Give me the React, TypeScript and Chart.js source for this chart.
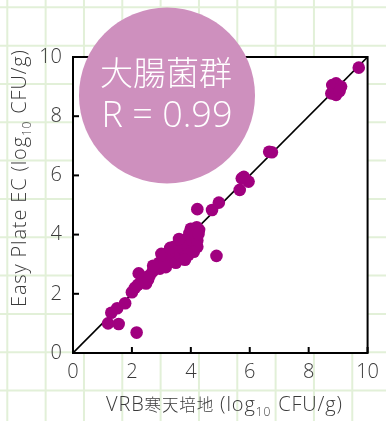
import { useEffect, useRef } from 'react';
import { Chart, registerables } from 'chart.js';

Chart.register(...registerables);

// VRB agar (x) vs Easy Plate EC (y), log10 CFU/g
const vrbX = [
  1.19, 1.55, 2.16, 1.30, 1.50, 1.77, 2.00, 2.10, 2.23, 2.20,
  2.48, 2.40, 2.60, 2.70, 2.80, 2.93, 2.95, 3.04, 3.10, 3.20,
  3.25, 3.35, 3.43, 3.50, 3.49, 3.60, 3.65, 3.70, 3.75, 3.83,
  3.85, 3.90, 3.95, 4.00, 4.05, 4.10, 4.15, 4.22, 4.28, 4.20,
  4.22, 4.72, 4.95, 4.87, 5.66, 5.73, 5.96, 5.80, 6.66, 6.75,
  8.77, 8.93, 8.80, 8.93, 9.10, 9.05, 9.70,
  3.00, 3.30, 3.60, 2.72, 3.92, 4.22, 4.26, 2.55, 3.15, 3.80,
];
const easyY = [
  1.00, 0.98, 0.69, 1.36, 1.51, 1.68, 2.05, 2.20, 2.69, 2.30,
  2.35, 2.55, 2.62, 2.75, 2.85, 3.05, 2.85, 3.31, 3.00, 3.20,
  3.40, 3.30, 3.59, 3.40, 3.05, 3.55, 3.30, 3.75, 3.50, 3.25,
  3.85, 3.60, 4.05, 4.20, 3.80, 3.42, 4.00, 3.59, 4.16, 4.25,
  4.86, 4.83, 5.08, 3.28, 5.51, 5.90, 5.79, 5.95, 6.80, 6.78,
  8.77, 8.72, 9.05, 9.11, 9.00, 8.85, 9.64,
  3.35, 3.55, 3.85, 2.95, 3.32, 3.80, 4.02, 2.48, 2.90, 3.15,
];
const identityLine = [0, 10];
const tickValues = [0, 2, 4, 6, 8, 10];
const circleLines = ['大腸菌群', 'R = 0.99'];
const xTitleParts = ['VRB', '寒天培地', ' (log', '10', ' CFU/g)'];
const yTitleParts = ['Easy Plate EC (log', '10', ' CFU/g)'];

const FONT = "'Open Sans', 'Noto Sans CJK JP', sans-serif";
const CJK_FONT = "'Noto Sans CJK JP', sans-serif";
const TEXT = '#3a3a3a';

const decorPlugin = {
  id: 'decor',
  beforeDraw(chart: any) {
    const { ctx, width, height, chartArea } = chart;
    ctx.save();
    ctx.fillStyle = '#ffffff';
    ctx.fillRect(0, 0, width, height);
    ctx.strokeStyle = '#e2f0d8';
    ctx.lineWidth = 2;
    const step = 38.33;
    for (let p = 7.3; p < Math.max(width, height) + 2; p += step) {
      ctx.beginPath();
      ctx.moveTo(p, 0);
      ctx.lineTo(p, height);
      ctx.stroke();
      ctx.beginPath();
      ctx.moveTo(0, p);
      ctx.lineTo(width, p);
      ctx.stroke();
    }
    ctx.fillStyle = '#ffffff';
    ctx.fillRect(chartArea.left, chartArea.top, chartArea.right - chartArea.left, chartArea.bottom - chartArea.top);
    ctx.restore();
  },
  afterDraw(chart: any) {
    const { ctx, chartArea } = chart;
    const xs = chart.scales.x;
    const ys = chart.scales.y;
    ctx.save();
    ctx.strokeStyle = '#000000';
    ctx.lineWidth = 2;
    ctx.strokeRect(chartArea.left, chartArea.top, chartArea.right - chartArea.left, chartArea.bottom - chartArea.top);
    tickValues.forEach((v) => {
      const px = xs.getPixelForValue(v);
      ctx.beginPath();
      ctx.moveTo(px, chartArea.bottom);
      ctx.lineTo(px, chartArea.bottom - 6);
      ctx.stroke();
      const py = ys.getPixelForValue(v);
      ctx.beginPath();
      ctx.moveTo(chartArea.left, py);
      ctx.lineTo(chartArea.left + 6, py);
      ctx.stroke();
    });

    const setFont = (p: string) => {
      const sub = p === '10';
      const cjk = /[\u3000-\u9fff]/.test(p);
      if (sub) ctx.font = `300 12px ${FONT}`;
      else if (cjk) ctx.font = `300 16.5px ${CJK_FONT}`;
      else ctx.font = `300 20px ${FONT}`;
      return sub;
    };
    const drawParts = (parts: string[], x: number, y: number, target: number) => {
      let natural = 0;
      let chars = 0;
      parts.forEach((p) => {
        const sub = setFont(p);
        natural += ctx.measureText(p).width + (sub ? 1 : 0);
        chars += p.length;
      });
      const extra = Math.max(0, (target - natural) / Math.max(1, chars - 1));
      let cx = x;
      ctx.textBaseline = 'alphabetic';
      ctx.textAlign = 'left';
      ctx.fillStyle = TEXT;
      parts.forEach((p) => {
        const sub = setFont(p);
        for (const ch of p) {
          ctx.fillText(ch, cx, sub ? y + 5 : y);
          cx += ctx.measureText(ch).width + extra;
        }
        if (sub) cx += 1;
      });
    };
    drawParts(xTitleParts, 106, 411, 236);
    ctx.save();
    ctx.translate(26, 307);
    ctx.rotate(-Math.PI / 2);
    drawParts(yTitleParts, 0, 0, 257);
    ctx.restore();

    ctx.fillStyle = '#ce90be';
    ctx.beginPath();
    ctx.arc(167, 95.5, 88, 0, Math.PI * 2);
    ctx.fill();
    ctx.fillStyle = '#ffffff';
    ctx.textAlign = 'center';
    ctx.textBaseline = 'middle';
    ctx.font = `300 33px ${CJK_FONT}`;
    ctx.fillText(circleLines[0], 166, 72);
    ctx.font = `300 36px ${FONT}`;
    ctx.fillText(circleLines[1], 167, 117);
    ctx.restore();
  },
};

export default function App() {
  const ref = useRef<HTMLCanvasElement>(null);
  useEffect(() => {
    document.body.style.margin = '0';
    const canvas = ref.current;
    if (!canvas) return;
    const points = vrbX.map((x, i) => ({ x, y: easyY[i] }));
    const line = identityLine.map((v) => ({ x: v, y: v }));
    const tickFont = { family: FONT, size: 20, weight: 300 as any };
    const chart = new Chart(canvas, {
      type: 'scatter',
      data: {
        datasets: [
          {
            data: points,
            backgroundColor: '#a0007f',
            borderColor: '#a0007f',
            pointRadius: 6.3,
            pointBorderWidth: 0,
            order: 1,
          },
          {
            data: line,
            showLine: true,
            borderColor: '#000000',
            borderWidth: 1.6,
            pointRadius: 0,
            order: 2,
          } as any,
        ],
      },
      options: {
        responsive: false,
        animation: false,
        devicePixelRatio: 1,
        layout: { padding: { top: 57, right: 16, left: 0, bottom: 0 } },
        plugins: { legend: { display: false }, tooltip: { enabled: false } },
        scales: {
          x: {
            type: 'linear',
            min: 0,
            max: 10,
            afterFit: (s: any) => { s.height = 68; },
            afterBuildTicks: (s: any) => { s.ticks = tickValues.map((v) => ({ value: v })); },
            grid: { display: false, drawTicks: false },
            border: { display: false },
            ticks: { font: tickFont, color: TEXT, padding: 7, maxRotation: 0 },
          },
          y: {
            type: 'linear',
            min: 0,
            max: 10,
            afterFit: (s: any) => { s.width = 73; },
            afterBuildTicks: (s: any) => { s.ticks = tickValues.map((v) => ({ value: v })); },
            grid: { display: false, drawTicks: false },
            border: { display: false },
            ticks: { font: tickFont, color: TEXT, padding: 11 },
          },
        },
      },
      plugins: [decorPlugin],
    });
    return () => chart.destroy();
  }, []);
  return <canvas ref={ref} width={386} height={421} style={{ display: 'block', width: 386, height: 421 }} />;
}
